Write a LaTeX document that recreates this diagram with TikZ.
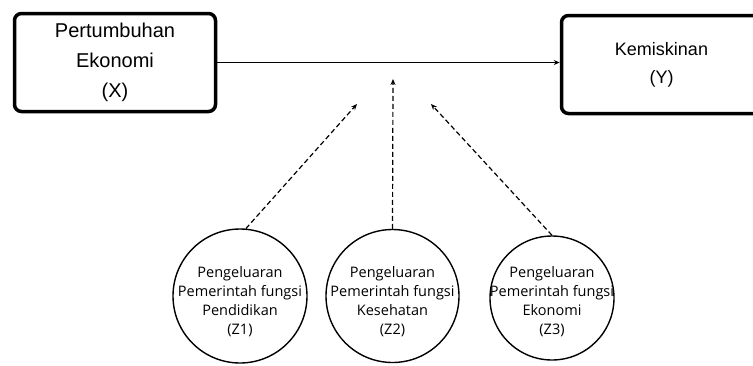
\documentclass[tikz,border=0pt]{standalone}
\usepackage{fontspec}
\setmainfont{Liberation Sans}
\newfontfamily\osans{Open Sans}
\usetikzlibrary{arrows.meta}
\begin{document}
\begin{tikzpicture}[x=1pt,y=-1pt,
  varbox/.style={draw=black,line width=3.5pt,rounded corners=7pt,align=center,inner sep=0pt},
  zcirc/.style={draw=black,line width=1.4pt,circle,inner sep=0pt},
  ztext/.style={align=center,inner sep=0pt,font=\osans\fontsize{14.5}{19}\selectfont},
  mainarr/.style={line width=1.2pt,-{Stealth[length=6pt,width=5pt]}},
  modarr/.style={line width=1.2pt,dash pattern=on 5pt off 3pt,-{Stealth[length=6pt,width=5pt]}}
]
\useasboundingbox (0,0) rectangle (753,365);
\node[varbox,minimum width=201pt,minimum height=98pt,font=\fontsize{20}{30}\selectfont] (X) at (115,62.5) {Pertumbuhan\\Ekonomi\\(X)};
\node[varbox,minimum width=200pt,minimum height=98pt,font=\fontsize{18}{28}\selectfont] (Y) at (661.5,64.5) {Kemiskinan\\(Y)};
\draw[mainarr] (X.east) -- (Y.west |- X.east);
\node[zcirc,minimum size=134pt] (Z1) at (240,296) {};
\node[zcirc,minimum size=133pt] (Z2) at (392.5,296) {};
\node[zcirc,minimum size=124pt] (Z3) at (552,298) {};
\node[ztext] (T1) at (240,302) {Pengeluaran\\Pemerintah fungsi\\Pendidikan\\(Z1)};
\node[ztext] (T2) at (392.5,302) {Pengeluaran\\Pemerintah fungsi\\Kesehatan\\(Z2)};
\node[ztext] (T3) at (552,302) {Pengeluaran\\Pemerintah fungsi\\Ekonomi\\(Z3)};
\coordinate (t1) at (357,104);
\coordinate (t2) at (393,79);
\coordinate (t3) at (431,104);
\draw[modarr] (Z1.85) -- (t1);
\draw[modarr] (Z2.north) -- (t2);
\draw[modarr] (Z3.north) -- (t3);
\end{tikzpicture}
\end{document}
